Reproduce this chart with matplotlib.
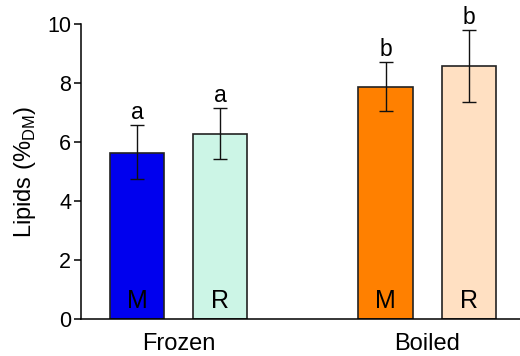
import numpy as np
import matplotlib
matplotlib.use("Agg")
import matplotlib.pyplot as plt

# ----------------------------
# Data
# ----------------------------
groups = ["Frozen", "Boiled"]
bar_labels = ["M", "R", "M", "R"]
lipids = [5.63, 6.28, 7.87, 8.58]
err_low = [4.73, 5.43, 7.04, 7.36]
err_high = [6.57, 7.16, 8.72, 9.80]
letters = ["a", "a", "b", "b"]
colors = ["#0000EE", "#CCF5E6", "#FF8000", "#FFE0C2"]

# ----------------------------
# Style
# ----------------------------
plt.rcParams["font.family"] = ["Liberation Sans", "DejaVu Sans"]
plt.rcParams["mathtext.fontset"] = "custom"
plt.rcParams["mathtext.rm"] = "Liberation Sans"

fig = plt.figure(figsize=(5.2, 3.56), dpi=100)
ax = fig.add_axes([0.1558, 0.1039, 0.8442, 0.8287])

# positions: two groups, two bars each
group_centers = np.array([0.0, 4.6])
offset = 0.77
x = np.concatenate([[g - offset, g + offset] for g in group_centers])

vals = np.array(lipids)
yerr = np.array([vals - np.array(err_low), np.array(err_high) - vals])

ax.bar(x, vals, width=1.0, color=colors, edgecolor="#222222", linewidth=1.2, zorder=2)
ax.errorbar(x, vals, yerr=yerr, fmt="none", ecolor="#111111",
            elinewidth=1.0, capsize=5, capthick=1.0, zorder=3)

# significance letters above the error bars
for xi, hi, let in zip(x, err_high, letters):
    ax.text(xi, hi + 0.2, let, ha="center", va="baseline", fontsize=16.5)

# M / R labels inside the bars
for xi, lab in zip(x, bar_labels):
    ax.text(xi, 0.38, lab, ha="center", va="baseline", fontsize=18)

ax.set_xlim(-1.807, 6.32)
ax.set_ylim(0, 10)
ax.set_yticks([0, 2, 4, 6, 8, 10])
ax.set_xticks(group_centers)
ax.set_xticklabels(groups, fontsize=17)
ax.tick_params(axis="x", length=0, pad=10)
ax.tick_params(axis="y", length=5, width=1.1, pad=2, labelsize=15.5)

ax.set_ylabel("Lipids (%$_{\\rm DM}$)", fontsize=17, labelpad=7)

for s in ["top", "right"]:
    ax.spines[s].set_visible(False)
for s in ["left", "bottom"]:
    ax.spines[s].set_linewidth(1.1)

plt.savefig("out.png", dpi=100)
